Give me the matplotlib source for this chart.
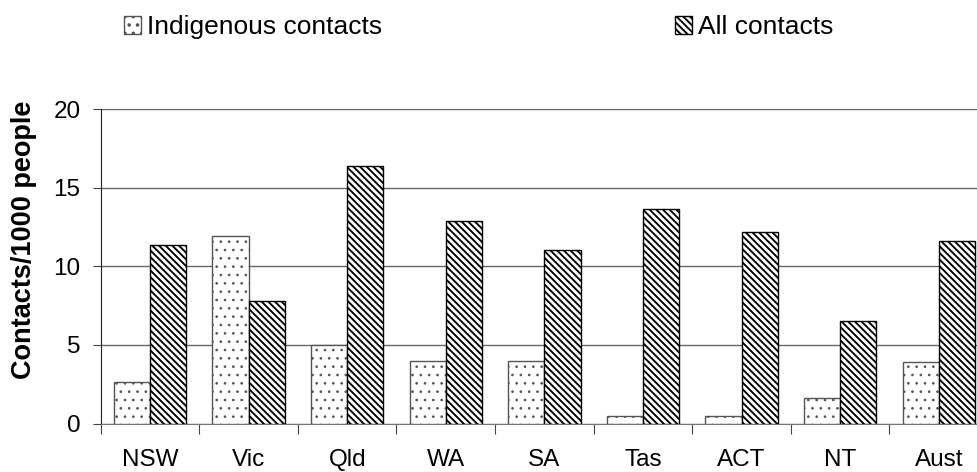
import matplotlib
matplotlib.use('Agg')
import matplotlib.pyplot as plt
import matplotlib as mpl
import numpy as np

plt.rcParams['font.family'] = ['Liberation Sans', 'DejaVu Sans']

# data
states = ['NSW', 'Vic', 'Qld', 'WA', 'SA', 'Tas', 'ACT', 'NT', 'Aust']
indigenous = [2.65, 11.9, 5.02, 3.98, 4.0, 0.46, 0.5, 1.61, 3.92]
all_contacts = [11.33, 7.81, 16.36, 12.9, 11.05, 13.64, 12.16, 6.54, 11.59]
yticks = [0, 5, 10, 15, 20]

W, H = 977, 472
fig = plt.figure(figsize=(W / 100, H / 100), dpi=100)
ax = fig.add_axes([100.7 / W, 48.4 / H, 887.4 / W, 314.6 / H])

x = np.arange(len(states))
bw = 0.368

mpl.rcParams['hatch.linewidth'] = 0.7
b1 = ax.bar(x - bw, indigenous, bw, align='edge', color='white',
            edgecolor='#555555', linewidth=1.0, hatch='..',
            label='Indigenous contacts', zorder=3)
mpl.rcParams['hatch.linewidth'] = 1.35
b2 = ax.bar(x, all_contacts, bw, align='edge', color='white',
            edgecolor='black', linewidth=1.0, hatch='\\' * 5,
            label='All contacts', zorder=3)

ax.set_xlim(-0.5, len(states) - 0.5)
ax.set_ylim(0, 20)
ax.set_yticks(yticks)
ax.yaxis.grid(True, color='#666666', linewidth=1.0, zorder=0)
ax.set_axisbelow(True)

ax.set_xticks(x)
ax.set_xticklabels(states, fontsize=17.5)
ax.set_xticks(np.arange(-0.5, len(states)), minor=True)
ax.tick_params(axis='x', which='major', length=0, pad=18)
ax.tick_params(axis='x', which='minor', length=7, width=0.8, color='#444444', direction='out')
ax.tick_params(axis='y', length=6, width=0.8, pad=8.5, labelsize=17.5, color='#444444')

for s in ['top', 'right']:
    ax.spines[s].set_visible(False)
ax.spines['left'].set_color('#222222')
ax.spines['bottom'].set_color('#777777')

ax.set_ylabel('Contacts/1000 people', fontsize=19.5, fontweight='bold')
ax.yaxis.set_label_coords(-0.072, 0.584)

fig.legend(handles=[b1, b2], loc='center left', bbox_to_anchor=(124 / W, 1 - 27 / H),
           ncol=2, frameon=False, fontsize=19, handlelength=0.65, handleheight=0.65,
           handletextpad=0.23, columnspacing=11.1, borderpad=0, borderaxespad=0)

fig.savefig('out.png', dpi=100)
